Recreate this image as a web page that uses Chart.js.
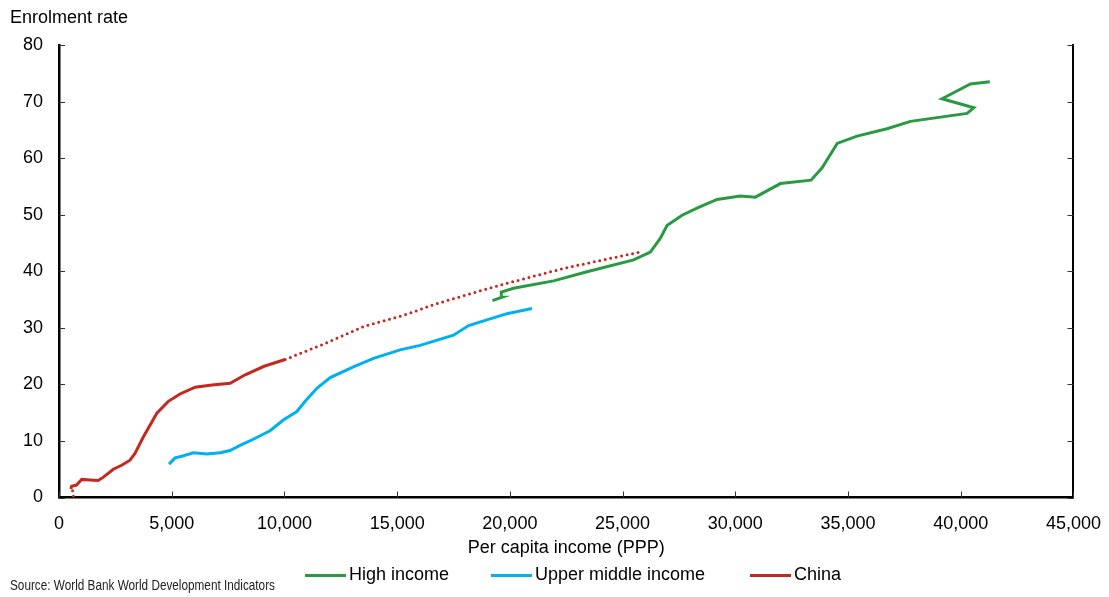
<!DOCTYPE html>
<html>
<head>
<meta charset="utf-8">
<script src="https://cdn.jsdelivr.net/npm/chart.js@4.4.1/dist/chart.umd.min.js"></script>
<style>
  body { margin: 0; background: #fff; }
  #wrap { position: relative; width: 1109px; height: 597px; font-family: "Liberation Sans", Arial, sans-serif; color: #000; }
  #yTitle { position: absolute; left: 10px; top: 7px; font-size: 18px; }
  #source { position: absolute; left: 10px; top: 577px; font-size: 14px; white-space: nowrap; color: #222; transform: scaleX(0.84); transform-origin: left top; }
  .leg { position: absolute; top: 564px; font-size: 18px; white-space: nowrap; }
  .leg i { position: absolute; top: 10px; width: 41px; height: 3px; }
</style>
</head>
<body>
<div id="wrap">
  <canvas id="chart" width="1109" height="597"></canvas>
  <div id="yTitle">Enrolment rate</div>
  <div class="leg" style="left:349px"><i style="left:-44px;background:#2a9a42"></i>High income</div>
  <div class="leg" style="left:535px"><i style="left:-44px;background:#00b0f0"></i>Upper middle income</div>
  <div class="leg" style="left:794px"><i style="left:-44px;background:#c4281f"></i>China</div>
  <div id="source">Source: World Bank World Development Indicators</div>
</div>
<script>
// High income
const hiX = [19230, 19650, 19620, 20160, 21940, 23420, 25490, 26230, 26670, 26970, 27640, 28370, 29190, 30220, 30890, 32000, 33360, 33850, 34520, 35400, 36730, 37770, 40280, 40580, 39170, 40430, 41290];
const hiY = [34.8, 35.4, 36.3, 37.0, 38.3, 39.9, 42.0, 43.4, 45.8, 48.1, 49.9, 51.3, 52.7, 53.3, 53.1, 55.5, 56.1, 58.3, 62.6, 63.9, 65.2, 66.5, 67.9, 68.9, 70.5, 73.1, 73.5];

// Upper middle income
const umX = [4880, 5150, 5450, 5960, 6560, 7150, 7590, 8030, 8620, 9360, 9950, 10550, 10920, 11440, 12030, 13060, 13950, 15130, 16020, 17500, 18170, 18980, 19870, 20980];
const umY = [5.9, 7.0, 7.3, 7.9, 7.7, 7.9, 8.3, 9.2, 10.3, 11.8, 13.7, 15.2, 17.0, 19.3, 21.2, 23.1, 24.6, 26.1, 26.9, 28.7, 30.4, 31.4, 32.5, 33.4];

// China (actual)
const cnX = [520, 560, 780, 870, 1010, 1380, 1740, 1970, 2410, 2780, 3150, 3370, 3740, 4340, 4850, 5370, 6040, 6790, 7590, 8260, 9100, 10030];
const cnY = [1.5, 2.0, 2.2, 2.6, 3.2, 3.1, 3.0, 3.6, 5.0, 5.7, 6.6, 7.8, 10.7, 14.9, 17.0, 18.3, 19.5, 19.9, 20.2, 21.7, 23.2, 24.4];

// China (dotted parts)
const cnStartX = [640, 600, 560];
const cnStartY = [0.2, 1.2, 2.0];
const cnProjX = [10030, 11730, 13500, 15430, 16690, 19430, 22380, 25780];
const cnProjY = [24.4, 27.1, 30.2, 32.4, 34.2, 37.4, 40.5, 43.4];

const GREEN = '#2a9a42';
const BLUE = '#00b0f0';
const RED = '#c4281f';

function pts(xs, ys) {
    return xs.map((x, i) => ({ x: x, y: ys[i] }));
}

function series(xs, ys, color, dotted) {
    const ds = {
        data: pts(xs, ys),
        showLine: true,
        borderColor: color,
        borderWidth: 3,
        pointRadius: 0,
        tension: 0,
        fill: false
    };
    if (dotted) {
        ds.borderDash = [0, 5.6];
        ds.borderCapStyle = 'round';
    }
    return ds;
}

// Ticks pointing into the plot area
const innerTicks = {
    id: 'innerTicks',
    afterDraw(chart) {
        const { ctx, chartArea, scales } = chart;
        ctx.save();
        ctx.strokeStyle = '#333';
        ctx.lineWidth = 1;
        ctx.beginPath();
        scales.y.ticks.forEach(t => {
            const py = Math.round(scales.y.getPixelForValue(t.value)) + 0.5;
            ctx.moveTo(chartArea.left, py);
            ctx.lineTo(chartArea.left + 6, py);
            ctx.moveTo(chartArea.right, py);
            ctx.lineTo(chartArea.right - 6, py);
        });
        scales.x.ticks.forEach(t => {
            const px = Math.round(scales.x.getPixelForValue(t.value)) + 0.5;
            ctx.moveTo(px, chartArea.bottom);
            ctx.lineTo(px, chartArea.bottom - 6);
        });
        ctx.stroke();
        ctx.restore();
    }
};

const font = { family: '"Liberation Sans", Arial, sans-serif', size: 18 };

new Chart(document.getElementById('chart').getContext('2d'), {
    type: 'scatter',
    data: {
        datasets: [
            series(cnStartX, cnStartY, RED, true),
            series(cnProjX, cnProjY, RED, true),
            series(umX, umY, BLUE, false),
            series(cnX, cnY, RED, false),
            series(hiX, hiY, GREEN, false)
        ]
    },
    options: {
        responsive: false,
        animation: false,
        layout: { padding: { top: 45, left: 0, right: 0, bottom: 0 } },
        plugins: {
            legend: { display: false },
            tooltip: { enabled: false }
        },
        scales: {
            x: {
                type: 'linear',
                min: 0,
                max: 45000,
                grid: { display: false },
                border: { display: true, color: '#000', width: 2.5 },
                ticks: {
                    stepSize: 5000,
                    padding: 8,
                    color: '#000',
                    font: font,
                    maxRotation: 0,
                    callback: v => v.toLocaleString('en-US')
                },
                title: {
                    display: true,
                    text: 'Per capita income (PPP)',
                    color: '#000',
                    font: font,
                    padding: { top: 0, bottom: 38 }
                },
                afterFit: s => { s.height = 99.5; }
            },
            y: {
                min: 0,
                max: 80,
                grid: { display: false },
                border: { display: true, color: '#000', width: 2.5 },
                ticks: { stepSize: 10, padding: 8, color: '#000', font: font },
                afterFit: s => { s.width = 59; }
            },
            y2: {
                position: 'right',
                min: 0,
                max: 80,
                grid: { display: false },
                border: { display: true, color: '#000', width: 2 },
                ticks: { display: false, stepSize: 10 },
                afterFit: s => { s.width = 32; }
            }
        }
    },
    plugins: [innerTicks]
});
</script>
</body>
</html>
